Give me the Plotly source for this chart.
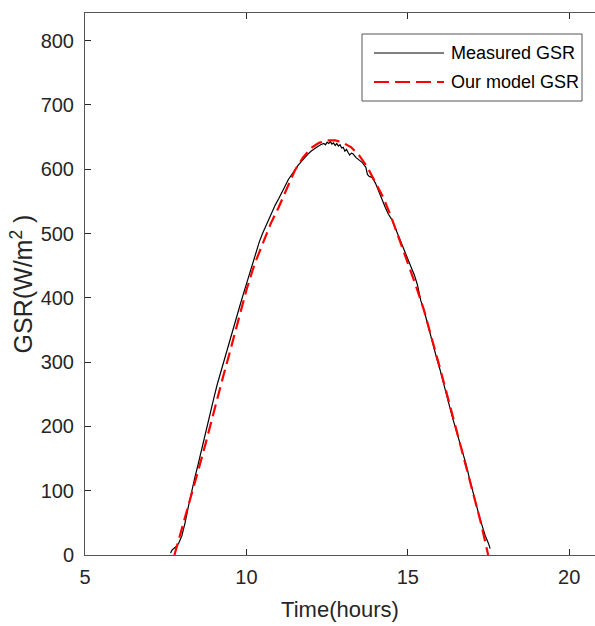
import plotly.graph_objects as go

# Measured global solar radiation (hours, W/m^2)
measured_t = [7.65, 7.70, 7.80, 7.90, 8.00, 8.10, 8.20, 8.30, 8.40, 8.50, 8.60, 8.70, 8.80, 8.90,
              9.00, 9.10, 9.20, 9.30, 9.40, 9.50, 9.60, 9.70, 9.80, 9.90, 10.00, 10.10, 10.20,
              10.30, 10.40, 10.50, 10.60, 10.70, 10.80, 10.90, 11.00, 11.10, 11.20, 11.30, 11.40,
              11.50, 11.60, 11.70, 11.80, 11.90, 12.00, 12.10, 12.20, 12.30, 12.40, 12.45, 12.50,
              12.55, 12.60, 12.65, 12.70, 12.75, 12.80, 12.85, 12.90, 12.95, 13.00, 13.05, 13.10,
              13.15, 13.20, 13.25, 13.30, 13.40, 13.50, 13.60, 13.70, 13.75, 13.80, 13.90, 14.00,
              14.10, 14.20, 14.30, 14.40, 14.50, 14.60, 14.70, 14.80, 14.90, 15.00, 15.10, 15.20,
              15.30, 15.40, 15.50, 15.60, 15.70, 15.80, 15.90, 16.00, 16.10, 16.20, 16.30, 16.40,
              16.50, 16.60, 16.70, 16.80, 16.90, 17.00, 17.10, 17.20, 17.30, 17.40, 17.50, 17.55]
measured_gsr = [3, 8, 12, 18, 30, 50, 75, 99, 120, 140, 162, 182, 203, 225,
                246, 266, 284, 301, 318, 335, 352, 370, 388, 405, 422, 440, 457,
                472, 487, 500, 512, 523, 534, 545, 554, 563, 574, 584, 592,
                600, 606, 612, 618, 623, 628, 632, 635, 638, 640, 638, 642,
                640, 643, 639, 641, 637, 640, 636, 638, 633, 634, 628, 631,
                626, 622, 625, 624, 618, 614, 610, 603, 592, 589, 587, 578,
                565, 553, 541, 530, 522, 510, 498, 487, 475, 462, 448, 436,
                420, 396, 381, 362, 342, 324, 305, 288, 270, 250, 230, 211,
                194, 177, 160, 142, 121, 101, 82, 63, 46, 30, 18, 10]

# Model global solar radiation (hours, W/m^2)
model_t = [7.77, 8.00, 8.25, 8.50, 8.75, 9.00, 9.25, 9.50, 9.75, 10.00, 10.25, 10.50, 10.75,
           11.00, 11.25, 11.50, 11.75, 12.00, 12.25, 12.50, 12.75, 13.00, 13.25, 13.50, 13.75,
           14.00, 14.25, 14.50, 14.75, 15.00, 15.25, 15.50, 15.75, 16.00, 16.25, 16.50, 16.75,
           17.00, 17.25, 17.49]
model_gsr = [0, 40, 85, 130, 176, 226, 272, 318, 365, 412, 452, 484, 515,
             541, 570, 598, 618, 633, 641, 645, 645, 641, 634, 621, 603,
             580, 555, 524, 490, 456, 419, 381, 337, 290, 243, 196, 149,
             102, 53, 0]

series_names = ["Measured GSR", "Our model GSR"]
x_ticks = [5, 10, 15, 20]
y_ticks = [0, 100, 200, 300, 400, 500, 600, 700, 800]

FONT = "Liberation Sans, Arial, sans-serif"
TXT = "#262626"

fig = go.Figure()
fig.add_trace(go.Scatter(x=measured_t, y=measured_gsr, mode="lines", name=series_names[0],
                         line=dict(color="black", width=1.2), showlegend=False))
fig.add_trace(go.Scatter(x=model_t, y=model_gsr, mode="lines", name=series_names[1],
                         line=dict(color="#ff0000", width=2.2, dash="12px,6px"), showlegend=False))

# Manual legend box (paper coordinates)
W, H = 595, 626
ml, mr, mt, mb = 85, 0, 13, 71
pw, ph = W - ml - mr, H - mt - mb


def px(x):
    return (x - ml) / pw


def py(y):
    return 1 - (y - mt) / ph


fig.add_shape(type="rect", xref="paper", yref="paper",
              x0=px(362), x1=px(582), y0=py(101), y1=py(34),
              line=dict(color="#555555", width=1), fillcolor="white", layer="above")
fig.add_shape(type="line", xref="paper", yref="paper",
              x0=px(374), x1=px(444), y0=py(53), y1=py(53),
              line=dict(color="black", width=1), layer="above")
fig.add_shape(type="line", xref="paper", yref="paper",
              x0=px(374), x1=px(444), y0=py(82), y1=py(82),
              line=dict(color="#ff0000", width=2.2, dash="15px,6px"), layer="above")
for yy, name in [(53, series_names[0]), (82, series_names[1])]:
    fig.add_annotation(xref="paper", yref="paper", x=px(449), y=py(yy), text=name,
                       showarrow=False, xanchor="left", yanchor="middle",
                       font=dict(family=FONT, size=18, color="black"))

fig.update_layout(
    width=W, height=H,
    margin=dict(l=ml, r=mr, t=mt, b=mb, pad=0),
    paper_bgcolor="white", plot_bgcolor="white",
    font=dict(family=FONT, color=TXT),
    showlegend=False,
    xaxis=dict(range=[5, 5 + pw / 32.28], tickvals=x_ticks, ticks="inside", ticklen=6,
               tickcolor=TXT, tickwidth=1, showline=True, linecolor="#555555", linewidth=1,
               mirror="ticks", showgrid=False, zeroline=False, ticklabelstandoff=4,
               tickfont=dict(family=FONT, size=20, color=TXT),
               title=dict(text="Time(hours)", font=dict(family=FONT, size=22, color=TXT), standoff=14)),
    yaxis=dict(range=[0, 843], tickvals=y_ticks, ticks="inside", ticklen=6,
               tickcolor=TXT, tickwidth=1, showline=True, linecolor="#555555", linewidth=1,
               mirror=False, showgrid=False, zeroline=False, ticklabelstandoff=6,
               tickfont=dict(family=FONT, size=20, color=TXT),
               title=dict(text="GSR(W/m<sup>2</sup> )", font=dict(family=FONT, size=25, color=TXT), standoff=0)),
)

fig.write_html("out.html")
